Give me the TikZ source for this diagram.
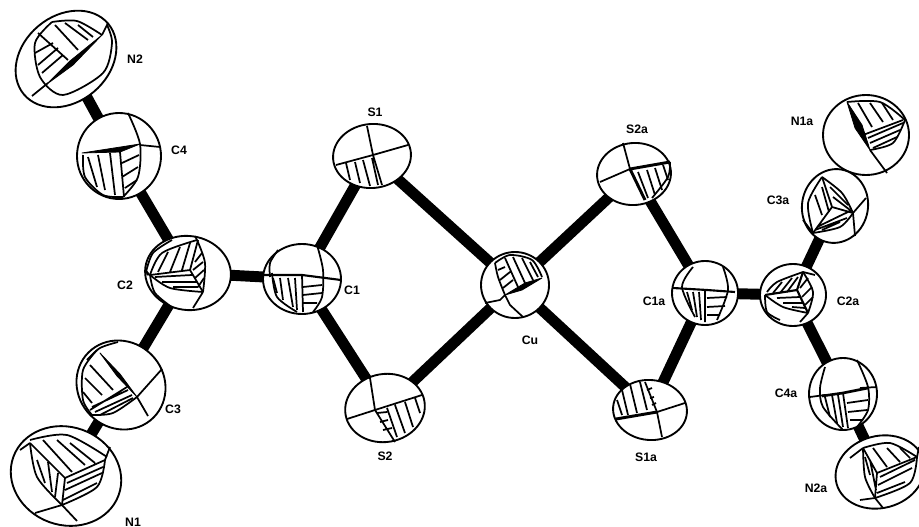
\documentclass[tikz,border=0pt]{standalone}
\usepackage{fontspec}
\setmainfont{Liberation Sans}
\usetikzlibrary{shapes.geometric,backgrounds}
\tikzset{
  atom/.style={ellipse,draw=black,fill=white,line width=1.4pt,inner sep=0pt,outer sep=0pt},
  bond/.style={line width=8.2pt,black},
  ol/.style={line width=1.3pt,black,line join=round},
  wg/.style={fill=black,draw=black,line width=.6pt,line join=round},
  lbl/.style={font=\fontsize{9.2}{10}\selectfont\bfseries,inner sep=0pt}
}
\newcommand{\atomnode}[6]{\node[atom,minimum width={#4*1.5pt},minimum height={#5*1.5pt},rotate=#6] (#1) at (#2,#3) {};}
\newcommand{\crv}[1]{\draw[ol,smooth] plot coordinates {#1};}
\begin{document}
\begin{tikzpicture}[x=0.75pt,y=-0.75pt]
\useasboundingbox (0,0) rectangle (919,527);
% ---- N2
\atomnode{N2}{66}{59}{55}{43}{40}
\crv{(52,22) (35,43) (40,77) (63,95) (103,73) (112,43) (107,25)}
\crv{(52,22) (77,21) (102,35)}
\draw[wg] (47,84)--(70,61)--(102,35)--(73,65)--cycle;
\draw[ol] (38,33)--(68,60) (55,25)--(78,50) (65,23)--(88,40) (78,25)--(93,37) (35,53)--(53,43) (38,65)--(58,48) (42,73)--(63,55) (32,96)--(48,83) (102,35)--(108,23);
% ---- C4
\atomnode{C4}{119}{156}{42}{43}{0}
\crv{(128,113) (140,144) (138,177) (123,197)}
\crv{(83,155) (85,177) (103,195) (123,197)}
\draw[wg] (82,153)--(140,144)--(120,152)--cycle;
\draw[ol] (140,145)--(160,147) (120,152)--(124,197) (88,157)--(97,187) (98,155)--(105,190) (110,153)--(115,195) (122,163)--(139,155) (122,177)--(138,167) (125,188)--(137,180);
% ---- C2
\atomnode{C2}{188}{273}{43}{37}{-8}
\crv{(150,275) (162,253) (197,240)}
\crv{(197,240) (205,263) (203,292)}
\crv{(150,275) (170,288) (203,292)}
\crv{(150,275) (155,293) (173,308)}
\crv{(146,272) (153,253) (172,240)}
\draw[ol] (190,270)--(150,275) (190,270)--(198,240) (190,270)--(203,292) (158,272)--(168,252) (170,272)--(180,247) (182,270)--(190,243) (195,262)--(202,253) (193,270)--(203,262) (195,278)--(204,270) (198,287)--(204,278) (155,277)--(192,275) (162,282)--(197,282) (173,287)--(198,287) (203,292)--(193,308) (197,240)--(195,236);
\draw[wg] (146,270)--(150,275)--(147,275)--cycle;
% ---- N1
\atomnode{N1}{66}{476}{56}{49}{-20}
\crv{(30,440) (67,435) (107,457)}
\crv{(30,443) (37,477) (62,505)}
\crv{(105,460) (97,487) (62,505)}
\draw[ol] (65,478)--(30,443) (65,478)--(105,460) (65,478)--(62,505) (43,440)--(72,472) (57,440)--(85,465) (70,443)--(95,463) (37,460)--(45,483) (48,462)--(52,492) (58,473)--(55,497) (67,483)--(103,467) (65,490)--(102,473) (63,500)--(97,483) (62,505)--(35,513) (62,505)--(77,521) (105,460)--(110,447) (30,443)--(20,450);
% ---- C3
\atomnode{C3}{121}{385}{46}{43}{-45}
\crv{(97,350) (83,370) (83,400) (92,415)}
\crv{(92,415) (113,413) (137,397)}
\crv{(87,360) (100,348) (118,342)}
\draw[wg] (100,353)--(120,374)--(137,397)--(117,376)--cycle;
\draw[ol] (137,397)--(148,416) (137,397)--(162,369) (90,410)--(127,387) (90,365)--(113,390) (85,378)--(102,395) (83,392)--(92,403) (92,407)--(128,390) (95,412)--(132,395) (100,415)--(133,398);
% ---- C1
\atomnode{C1}{302}{279}{39}{35}{0}
\crv{(317,245) (323,270) (322,297) (313,312)}
\crv{(272,273) (277,297) (297,312)}
\crv{(270,277) (270,263) (278,250)}
\draw[ol,line width=1.6pt] (263,275)--(302,275)--(341,280);
\draw[ol] (302,275)--(303,312) (273,278)--(277,293) (280,278)--(283,300) (288,278)--(293,307) (295,278)--(297,310) (303,287)--(322,285) (303,295)--(322,293) (303,303)--(317,303);
% ---- S1
\atomnode{S1}{372}{156}{39}{32}{5}
\draw[ol] (336,165)--(373,155)--(408,145) (367,126)--(373,155)--(382,185) (346,163)--(350,180) (355,162)--(360,183) (363,160)--(370,186) (372,158)--(378,185);
% ---- S2
\atomnode{S2}{385}{408}{40}{34}{10}
\draw[ol] (347,419)--(375,410)--(422,395) (370,378)--(375,410)--(395,442) (387,408)--(397,437) (395,405)--(405,433) (405,402)--(413,427) (415,398)--(420,413) (377,413)--(387,412) (380,422)--(388,420) (383,430)--(392,428);
% ---- Cu
\atomnode{Cu}{515}{285}{34}{33}{0}
\crv{(495,263) (498,277) (505,295)}
\crv{(495,263) (510,255) (532,260) (542,277)}
\draw[wg] (505,295)--(525,283)--(542,278)--(522,290)--cycle;
\draw[ol] (505,258)--(518,287) (513,257)--(525,283) (522,258)--(533,280) (530,262)--(538,277) (498,270)--(505,267) (500,280)--(510,272) (503,288)--(513,280) (505,295)--(510,305)--(523,317) (505,295)--(500,300)--(485,303);
% ---- S2a
\atomnode{S2a}{634}{174}{37}{31}{5}
\crv{(670,162) (668,177) (652,198)}
\draw[ol,line width=2.2pt] (630,169)--(670,162) (630,169)--(645,200);
\draw[ol] (630,169)--(623,143) (630,169)--(600,182) (638,172)--(648,198) (647,170)--(655,195) (655,168)--(662,190) (663,165)--(668,180);
% ---- C1a
\atomnode{C1a}{705}{293}{33}{32}{0}
\crv{(693,267) (682,287) (695,317)}
\crv{(723,267) (728,290) (717,320)}
\draw[ol,line width=1.6pt] (673,288)--(707,290)--(735,292);
\draw[ol] (705,290)--(705,322) (687,292)--(692,310) (693,292)--(697,317) (699,292)--(701,320) (707,298)--(727,297) (707,307)--(725,306) (707,315)--(720,315);
% ---- S1a
\atomnode{S1a}{650}{410}{37}{30}{-5}
\draw[ol,line width=2.2pt] (616,419)--(657,412);
\draw[ol] (657,412)--(685,403) (645,382)--(657,412)--(662,437) (617,400)--(622,415) (622,390)--(628,415) (630,384)--(637,413) (640,382)--(647,410) (647,390)--(652,388) (650,398)--(654,397) (652,405)--(656,403);
% ---- N1a
\atomnode{N1a}{866}{135}{43}{40}{0}
\crv{(847,102) (880,102) (905,120)}
\crv{(870,150) (893,143) (905,120)}
\draw[wg] (847,102)--(862,125)--(870,150)--(855,128)--cycle;
\draw[ol] (870,150)--(887,173) (863,135)--(903,120) (858,103)--(872,127) (870,103)--(883,122) (882,103)--(893,120) (868,138)--(903,123) (870,143)--(900,130) (873,148)--(897,137);
% ---- C3a
\atomnode{C3a}{835}{206}{37}{33}{80}
\crv{(822,177) (808,203) (813,233)}
\crv{(822,177) (842,193) (853,213)}
\crv{(813,233) (840,227) (853,213)}
\draw[ol] (822,177)--(832,207) (832,207)--(853,213) (832,207)--(813,233) (815,195)--(822,215) (822,187)--(829,212) (830,187)--(848,205) (833,197)--(850,210) (817,227)--(852,210) (815,230)--(847,218) (822,230)--(840,222) (853,213)--(866,198) (853,213)--(855,236) (813,233)--(803,220);
% ---- C2a
\atomnode{C2a}{793}{295}{33}{31}{0}
\crv{(767,292) (777,282) (803,272)}
\crv{(803,272) (813,292) (808,313)}
\crv{(765,295) (783,307) (808,313)}
\crv{(765,295) (767,312) (780,320)}
\draw[ol,line width=1.6pt] (797,290)--(765,295) (797,290)--(803,272) (797,290)--(808,313);
\draw[ol] (773,293)--(782,282) (780,293)--(792,278) (787,292)--(798,277) (800,288)--(808,278) (802,297)--(812,287) (805,305)--(813,297) (777,298)--(800,297) (783,303)--(803,303) (792,307)--(805,308) (808,313)--(800,322) (803,272)--(815,275);
% ---- C4a
\atomnode{C4a}{843}{394}{34}{36}{0}
\crv{(825,367) (820,388) (823,407) (843,430)}
\crv{(857,360) (868,387) (868,410) (857,427)}
\draw[ol] (810,397)--(825,395) (860,388)--(877,387) (843,393)--(848,428) (825,397)--(830,417) (832,395)--(837,423) (838,395)--(843,427) (847,403)--(868,400) (848,412)--(867,410) (850,420)--(863,420);
\draw[ol,line width=2pt] (822,396)--(843,393)--(868,388);
% ---- N2a
\atomnode{N2a}{880}{472}{45}{36}{15}
\crv{(863,448) (890,443) (917,457)}
\crv{(863,448) (865,477) (875,498)}
\crv{(917,457) (910,483) (875,498)}
\draw[ol] (877,473)--(863,448) (877,473)--(917,457) (877,473)--(875,498) (873,448)--(887,467) (887,448)--(900,462) (900,448)--(910,458) (865,457)--(870,475) (870,460)--(876,490) (880,477)--(915,460) (878,485)--(912,468) (877,493)--(905,482) (875,498)--(860,500) (875,498)--(883,508) (917,457)--(919,447) (863,448)--(850,458);
% ---- bonds
\begin{scope}[on background layer]
\draw[bond] (N2.center)--(C4.center);
\draw[bond] (C4.center)--(C2.center);
\draw[bond] (C2.center)--(C3.center);
\draw[bond] (C3.center)--(N1.center);
\draw[bond] (C2.center)--(C1.center);
\draw[bond] (C1.center)--(S1.center);
\draw[bond] (C1.center)--(S2.center);
\draw[bond] (S1.center)--(Cu.center);
\draw[bond] (S2.center)--(Cu.center);
\draw[bond] (Cu.center)--(S2a.center);
\draw[bond] (Cu.center)--(S1a.center);
\draw[bond] (S2a.center)--(C1a.center);
\draw[bond] (S1a.center)--(C1a.center);
\draw[bond] (C1a.center)--(C2a.center);
\draw[bond] (C2a.center)--(C3a.center);
\draw[bond] (C3a.center)--(N1a.center);
\draw[bond] (C2a.center)--(C4a.center);
\draw[bond] (C4a.center)--(N2a.center);
\end{scope}
% ---- labels
\node[lbl] (lN2) at (135,59) {N2};
\node[lbl] (lC4) at (179,150) {C4};
\node[lbl] (lC2) at (125,285) {C2};
\node[lbl] (lC3) at (173,409) {C3};
\node[lbl] (lN1) at (133,522) {N1};
\node[lbl] (lC1) at (352,290) {C1};
\node[lbl] (lS1) at (375,112) {S1};
\node[lbl] (lS2) at (385,456) {S2};
\node[lbl] (lCu) at (530,340) {Cu};
\node[lbl] (lS2a) at (637,129) {S2a};
\node[lbl] (lC1a) at (654,301) {C1a};
\node[lbl] (lS1a) at (646,457) {S1a};
\node[lbl] (lN1a) at (802,121) {N1a};
\node[lbl] (lC3a) at (778,200) {C3a};
\node[lbl] (lC2a) at (848,301) {C2a};
\node[lbl] (lC4a) at (786,393) {C4a};
\node[lbl] (lN2a) at (816,488) {N2a};
\end{tikzpicture}
\end{document}
